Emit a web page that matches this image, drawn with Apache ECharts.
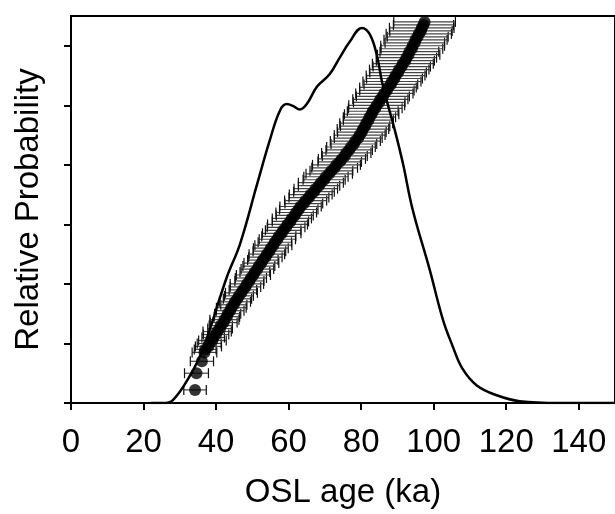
<!DOCTYPE html>
<html>
<head>
<meta charset="utf-8">
<script src="https://cdn.jsdelivr.net/npm/echarts@6/dist/echarts.min.js"></script>
<style>
  html, body { margin: 0; padding: 0; background: #fff; }
  #chart { width: 615px; height: 514px; }
</style>
</head>
<body>
<div id="chart"></div>
<script>
// probability density curve (age in ka, relative probability)
var curveAge = [22, 25.3, 28.1, 32.8, 36.4, 43.0, 46.6, 51.2, 54.8, 57.6, 59.5, 61.2, 63.1, 65.0, 67.8, 71.3, 74.1, 76.9, 80.2, 82.4, 84.3, 85.7, 87.1, 89.3, 91.5, 94.2, 98.9, 102.5, 105.2, 107.9, 111.8, 117.4, 123.7, 134.7, 150];
var curveProb = [0, 0, 0.05, 0.46, 0.91, 2.12, 2.67, 3.65, 4.41, 4.91, 5.02, 4.99, 4.93, 5.02, 5.31, 5.52, 5.80, 6.07, 6.30, 6.19, 5.85, 5.41, 5.07, 4.58, 4.03, 3.25, 2.24, 1.41, 0.96, 0.58, 0.30, 0.13, 0.03, 0, 0];

// individual OSL ages, their errors and plotted rank position
var oslAge = [34.2, 34.6, 36.1,
  36.8, 37.0, 37.9, 38.1, 39.0, 39.2, 40.0, 40.3, 41.1, 41.3, 42.1, 42.3, 43.0, 43.2,
  43.9, 44.2, 44.9, 45.2, 45.9, 46.3, 47.0, 47.4, 48.1, 48.5, 49.2, 49.6, 50.3, 50.7, 51.4, 51.8, 52.5, 52.9, 53.6, 54.0,
  54.7, 55.1, 55.8, 56.2, 56.9, 57.3, 58.1, 58.5, 59.3, 59.7, 60.5, 60.9, 61.7, 62.1, 62.8, 63.3, 64.2, 64.7, 65.6, 66.1,
  67.0, 67.5, 68.4, 68.9, 69.8, 70.3, 71.2, 71.8, 72.7, 73.2, 74.1, 74.7, 75.5, 75.9, 76.7, 77.2, 78.0, 78.4, 79.2, 79.6,
  80.2, 80.5, 81.1, 81.4, 82.0, 82.3, 82.9, 83.2, 83.9, 84.3, 85.0, 85.3, 86.0, 86.4, 87.1, 87.4, 88.2, 88.5, 89.2, 89.5,
  90.2, 90.5, 91.2, 91.5, 92.2, 92.5, 93.1, 93.3, 94.0, 94.2, 94.8, 95.0, 95.6, 95.9, 96.5, 96.7, 97.2, 97.5];
var oslErr = [3.1, 3.3, 3.2,
  3.4, 3.0, 3.6, 3.3, 3.8, 3.1, 3.5, 3.9, 3.4, 3.2, 3.7, 4.0, 3.5, 3.6,
  3.8, 4.1, 3.6, 4.3, 3.9, 4.0, 4.4, 3.8, 4.2, 4.6, 4.0, 4.3, 4.7, 4.1, 4.5, 4.4, 4.8, 4.2, 4.6, 4.9,
  4.5, 4.8, 5.1, 4.6, 5.0, 4.7, 5.3, 4.9, 5.2, 5.5, 5.0, 5.4, 5.1, 5.6, 5.3, 5.7, 5.2, 5.8, 5.5, 5.9,
  5.6, 6.0, 5.7, 6.2, 5.8, 6.1, 6.4, 5.9, 6.3, 6.6, 6.0, 6.5, 6.2, 6.8, 6.4, 6.7, 6.3, 6.9, 6.6, 7.0,
  6.7, 7.1, 6.8, 7.3, 6.9, 7.2, 7.5, 7.0, 7.4, 7.7, 7.1, 7.6, 7.3, 7.9, 7.5, 7.8, 7.4, 8.0, 7.7, 8.1,
  7.8, 8.2, 7.9, 8.4, 8.0, 8.3, 8.6, 8.1, 8.5, 8.8, 8.2, 8.7, 8.4, 9.0, 8.6, 8.9, 8.3, 8.5];
var oslPos = [0.22, 0.50, 0.70,
  0.85, 0.90, 0.95, 1.00, 1.05, 1.10, 1.15, 1.20, 1.25, 1.30, 1.35, 1.40, 1.45, 1.50,
  1.55, 1.60, 1.65, 1.70, 1.75, 1.80, 1.85, 1.90, 1.95, 2.00, 2.05, 2.10, 2.15, 2.20, 2.25, 2.30, 2.35, 2.40, 2.45, 2.50,
  2.55, 2.60, 2.65, 2.70, 2.75, 2.80, 2.85, 2.90, 2.95, 3.00, 3.05, 3.10, 3.15, 3.20, 3.25, 3.30, 3.35, 3.40, 3.45, 3.50,
  3.55, 3.60, 3.65, 3.70, 3.75, 3.80, 3.85, 3.90, 3.95, 4.00, 4.05, 4.10, 4.15, 4.20, 4.25, 4.30, 4.35, 4.40, 4.45, 4.50,
  4.55, 4.60, 4.65, 4.70, 4.75, 4.80, 4.85, 4.90, 4.95, 5.00, 5.05, 5.10, 5.15, 5.20, 5.25, 5.30, 5.35, 5.40, 5.45, 5.50,
  5.55, 5.60, 5.65, 5.70, 5.75, 5.80, 5.85, 5.90, 5.95, 6.00, 6.05, 6.10, 6.15, 6.20, 6.25, 6.30, 6.35, 6.40];

var xTicks = [0, 20, 40, 60, 80, 100, 120, 140];
var yTicks = [0, 1, 2, 3, 4, 5, 6];

var font = 'Liberation Sans, Arial, sans-serif';
var myChart = echarts.init(document.getElementById('chart'));

myChart.setOption({
  animation: false,
  grid: {
    left: 71, top: 16, width: 545, height: 392,
    show: true, borderColor: '#000', borderWidth: 2
  },
  xAxis: {
    type: 'value', min: 0, max: 150,
    name: 'OSL age (ka)', nameLocation: 'middle', nameGap: 73,
    nameTextStyle: { fontSize: 33, color: '#000', fontFamily: font },
    axisLine: { lineStyle: { color: '#000', width: 2 } },
    axisTick: { customValues: xTicks, length: 7, lineStyle: { color: '#000', width: 2 } },
    axisLabel: { customValues: xTicks, fontSize: 33, color: '#000', fontFamily: font, margin: 23 },
    splitLine: { show: false }
  },
  yAxis: {
    type: 'value', min: 0, max: 6.5,
    name: 'Relative Probability', nameLocation: 'middle', nameGap: 26,
    nameTextStyle: { fontSize: 33, color: '#000', fontFamily: font },
    axisLine: { show: true, lineStyle: { color: '#000', width: 2 } },
    axisTick: { show: true, customValues: yTicks, length: 7, lineStyle: { color: '#000', width: 2 } },
    axisLabel: { show: false },
    splitLine: { show: false }
  },
  series: [
    {
      // horizontal error bars with caps
      type: 'custom',
      data: oslAge.map(function (a, i) { return [a, oslErr[i], oslPos[i]]; }),
      encode: { x: 0, y: 2 },
      z: 1,
      renderItem: function (params, api) {
        var age = api.value(0), err = api.value(1), pos = api.value(2);
        var l = api.coord([age - err, pos]);
        var r = api.coord([age + err, pos]);
        var st = { stroke: '#111', lineWidth: 1.2 };
        return {
          type: 'group',
          children: [
            { type: 'line', shape: { x1: l[0], y1: l[1], x2: r[0], y2: r[1] }, style: { stroke: '#444', lineWidth: 1.2 } },
            { type: 'line', shape: { x1: l[0], y1: l[1] - 5, x2: l[0], y2: l[1] + 5 }, style: st },
            { type: 'line', shape: { x1: r[0], y1: r[1] - 5, x2: r[0], y2: r[1] + 5 }, style: st }
          ]
        };
      }
    },
    {
      type: 'line',
      data: curveAge.map(function (a, i) { return [a, curveProb[i]]; }),
      smooth: 0.4,
      showSymbol: false,
      z: 3,
      lineStyle: { color: '#000', width: 2.5 }
    },
    {
      type: 'scatter',
      data: oslAge.map(function (a, i) { return [a, oslPos[i]]; }),
      symbolSize: 12,
      z: 4,
      itemStyle: { color: '#000' }
    }
  ]
});
</script>
</body>
</html>
